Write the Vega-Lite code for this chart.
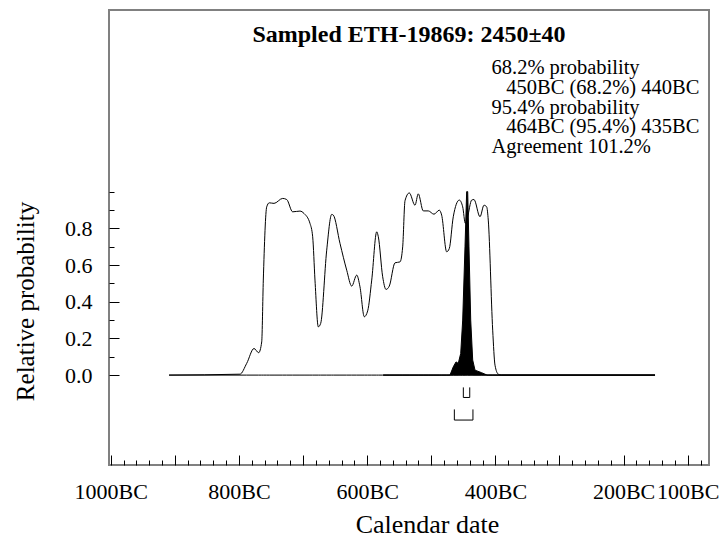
{
  "$schema": "https://vega.github.io/schema/vega-lite/v6.json",
  "width": 600,
  "height": 455,
  "autosize": "none",
  "padding": {"left": 109, "top": 10, "right": 11, "bottom": 72},
  "background": "white",
  "config": {
    "font": "Liberation Serif",
    "view": {"stroke": "#808080", "strokeWidth": 2},
    "axis": {"labelFont": "Liberation Serif", "titleFont": "Liberation Serif", "labelColor": "black", "titleColor": "black", "titleFontWeight": "normal", "domain": false, "grid": false, "tickColor": "black", "tickWidth": 1},
    "text": {"font": "Liberation Serif", "fontSize": 20.5, "color": "black", "align": "left", "baseline": "alphabetic"}
  },
  "title": {
    "text": "Sampled ETH-19869: 2450±40",
    "orient": "top",
    "anchor": "middle",
    "frame": "group",
    "baseline": "alphabetic",
    "offset": -33,
    "dy": 23,
    "font": "Liberation Serif",
    "fontSize": 24,
    "fontWeight": "bold",
    "color": "black"
  },
  "resolve": {"axis": {"x": "independent", "y": "independent"}},
  "datasets": {
    "likelihood": [
      {"yr": -909, "p": 0}, {"yr": -798.4, "p": 0.005}, {"yr": -787.9, "p": 0.064}, {"yr": -776.5, "p": 0.145},
      {"yr": -769.2, "p": 0.122}, {"yr": -764.5, "p": 0.181}, {"yr": -762.0, "p": 0.518}, {"yr": -756.7, "p": 0.917},
      {"yr": -752.7, "p": 0.939}, {"yr": -745.3, "p": 0.936}, {"yr": -731.8, "p": 0.963}, {"yr": -725.5, "p": 0.957},
      {"yr": -716.2, "p": 0.89}, {"yr": -704.8, "p": 0.894}, {"yr": -698.5, "p": 0.881}, {"yr": -689.2, "p": 0.827},
      {"yr": -685, "p": 0.754}, {"yr": -681.4, "p": 0.518}, {"yr": -676.2, "p": 0.263}, {"yr": -672.5, "p": 0.282},
      {"yr": -663.1, "p": 0.681}, {"yr": -655.3, "p": 0.876}, {"yr": -652.8, "p": 0.872}, {"yr": -642.4, "p": 0.718},
      {"yr": -631.9, "p": 0.572}, {"yr": -624.1, "p": 0.485}, {"yr": -616.3, "p": 0.545}, {"yr": -611.2, "p": 0.481},
      {"yr": -604.5, "p": 0.318}, {"yr": -599.2, "p": 0.35}, {"yr": -592.9, "p": 0.518}, {"yr": -585.1, "p": 0.781},
      {"yr": -582.6, "p": 0.754}, {"yr": -575.8, "p": 0.536}, {"yr": -570.6, "p": 0.467}, {"yr": -565.5, "p": 0.485},
      {"yr": -556.6, "p": 0.612}, {"yr": -548.8, "p": 0.617}, {"yr": -544.6, "p": 0.699}, {"yr": -541, "p": 0.95},
      {"yr": -534.3, "p": 0.993}, {"yr": -525.4, "p": 0.926}, {"yr": -520.3, "p": 0.988}, {"yr": -512.5, "p": 0.895},
      {"yr": -504.7, "p": 0.895}, {"yr": -495.8, "p": 0.877}, {"yr": -487.5, "p": 0.899}, {"yr": -483.8, "p": 0.872},
      {"yr": -476, "p": 0.672}, {"yr": -471.9, "p": 0.69}, {"yr": -465.7, "p": 0.863}, {"yr": -456.3, "p": 0.954},
      {"yr": -451, "p": 0.917}, {"yr": -446.9, "p": 0.827}, {"yr": -443.5, "p": 0.86}, {"yr": -437, "p": 0.954},
      {"yr": -433.4, "p": 0.957}, {"yr": -424, "p": 0.863}, {"yr": -417.8, "p": 0.926}, {"yr": -413.6, "p": 0.917},
      {"yr": -411.1, "p": 0.845}, {"yr": -404.2, "p": 0.245}, {"yr": -400.6, "p": 0.054}, {"yr": -395.5, "p": 0.005},
      {"yr": -391, "p": 0}, {"yr": -151, "p": 0}
    ],
    "posterior": [
      {"yr": -575, "p": 0}, {"yr": -470.8, "p": 0}, {"yr": -465.7, "p": 0.045}, {"yr": -461.4, "p": 0.072},
      {"yr": -457.9, "p": 0.064}, {"yr": -454.1, "p": 0.118}, {"yr": -451, "p": 0.3}, {"yr": -447.4, "p": 0.699},
      {"yr": -444.8, "p": 1.0}, {"yr": -443.2, "p": 1.0}, {"yr": -441.2, "p": 0.699}, {"yr": -438.5, "p": 0.3},
      {"yr": -435.4, "p": 0.082}, {"yr": -431.8, "p": 0.027}, {"yr": -421.4, "p": 0.013}, {"yr": -416.2, "p": 0.005},
      {"yr": -413, "p": 0}, {"yr": -151, "p": 0}
    ],
    "ranges": [
      {"range": "68.2%", "yr": -450, "yr2": -440},
      {"range": "95.4%", "yr": -464, "yr2": -435}
    ],
    "summary": [
      {"line": "68.2% probability"},
      {"line": "450BC (68.2%) 440BC"},
      {"line": "95.4% probability"},
      {"line": "464BC (95.4%) 435BC"},
      {"line": "Agreement 101.2%"}
    ]
  },
  "layer": [
    {
      "data": {"name": "likelihood"},
      "mark": {"type": "area", "fillOpacity": 0, "stroke": "black", "strokeWidth": 1, "interpolate": "monotone"},
      "encoding": {
        "x": {
          "field": "yr", "type": "quantitative",
          "scale": {"domain": [-1002.7, -66.8], "nice": false, "zero": false},
          "axis": {
            "orient": "bottom",
            "values": [-1000, -900, -800, -700, -600, -500, -400, -300, -200, -100],
            "tickSize": -10,
            "labelExpr": "indexof([-1000,-800,-600,-400,-200,-100], datum.value) >= 0 ? (-datum.value) + 'BC' : ''",
            "labelPadding": 26,
            "labelFontSize": 22,
            "labelFlush": false,
            "labelOverlap": false,
            "labelBound": false,
            "title": "Calendar date",
            "titleFontSize": 26,
            "titleX": 318,
            "titleY": 67,
            "titleBaseline": "alphabetic",
            "titleAlign": "center"
          }
        },
        "y": {
          "field": "p", "type": "quantitative",
          "scale": {"domain": [-0.49, 1.99], "nice": false, "zero": false},
          "axis": {
            "orient": "left",
            "values": [0, 0.2, 0.4, 0.6, 0.8],
            "tickSize": -10,
            "format": ".1f",
            "labelPadding": 27,
            "labelFontSize": 22,
            "labelFlush": false,
            "labelOverlap": false,
            "labelBound": false,
            "title": "Relative probability",
            "titleFontSize": 25,
            "titleX": -76,
            "titleY": 291,
            "titleAngle": -90,
            "titleBaseline": "alphabetic",
            "titleAlign": "center"
          }
        }
      }
    },
    {
      "data": {"name": "posterior"},
      "mark": {"type": "area", "fill": "black", "stroke": "black", "strokeWidth": 1},
      "encoding": {
        "x": {
          "field": "yr", "type": "quantitative",
          "axis": {
            "orient": "bottom",
            "values": [-980,-960,-940,-920,-880,-860,-840,-820,-780,-760,-740,-720,-680,-660,-640,-620,-580,-560,-540,-520,-480,-460,-440,-420,-380,-360,-340,-320,-280,-260,-240,-220,-180,-160,-140,-120,-80],
            "tickSize": -5,
            "labels": false,
            "title": null
          }
        },
        "y": {
          "field": "p", "type": "quantitative",
          "axis": {
            "orient": "left",
            "values": [0.1, 0.3, 0.5, 0.7, 0.9, 1.0],
            "tickSize": -5,
            "labels": false,
            "title": null
          }
        }
      }
    },
    {
      "data": {"name": "ranges"},
      "transform": [{"filter": "datum.range === '68.2%'"}],
      "mark": {"type": "rule", "color": "black", "strokeWidth": 1},
      "encoding": {
        "x": {"field": "yr", "type": "quantitative", "axis": null},
        "x2": {"field": "yr2"},
        "y": {"datum": -0.122, "type": "quantitative", "axis": null}
      }
    },
    {
      "data": {"name": "ranges"},
      "transform": [{"filter": "datum.range === '68.2%'"}, {"fold": ["yr", "yr2"], "as": ["end", "year"]}],
      "mark": {"type": "rule", "color": "black", "strokeWidth": 1},
      "encoding": {
        "x": {"field": "year", "type": "quantitative", "axis": null},
        "y": {"datum": -0.067, "type": "quantitative", "axis": null},
        "y2": {"datum": -0.122}
      }
    },
    {
      "data": {"name": "ranges"},
      "transform": [{"filter": "datum.range === '95.4%'"}],
      "mark": {"type": "rule", "color": "black", "strokeWidth": 1},
      "encoding": {
        "x": {"field": "yr", "type": "quantitative", "axis": null},
        "x2": {"field": "yr2"},
        "y": {"datum": -0.245, "type": "quantitative", "axis": null}
      }
    },
    {
      "data": {"name": "ranges"},
      "transform": [{"filter": "datum.range === '95.4%'"}, {"fold": ["yr", "yr2"], "as": ["end", "year"]}],
      "mark": {"type": "rule", "color": "black", "strokeWidth": 1},
      "encoding": {
        "x": {"field": "year", "type": "quantitative", "axis": null},
        "y": {"datum": -0.187, "type": "quantitative", "axis": null},
        "y2": {"datum": -0.245}
      }
    },
    {
      "data": {"name": "summary"},
      "transform": [{"filter": "datum.line === '68.2% probability'"}],
      "mark": {"type": "text"},
      "encoding": {
        "text": {"field": "line"},
        "x": {"datum": -406, "type": "quantitative", "axis": null},
        "y": {"datum": 1.639, "type": "quantitative", "axis": null}
      }
    },
    {
      "data": {"name": "summary"},
      "transform": [{"filter": "datum.line === '450BC (68.2%) 440BC'"}],
      "mark": {"type": "text"},
      "encoding": {
        "text": {"field": "line"},
        "x": {"datum": -383, "type": "quantitative", "axis": null},
        "y": {"datum": 1.532, "type": "quantitative", "axis": null}
      }
    },
    {
      "data": {"name": "summary"},
      "transform": [{"filter": "datum.line === '95.4% probability'"}],
      "mark": {"type": "text"},
      "encoding": {
        "text": {"field": "line"},
        "x": {"datum": -406, "type": "quantitative", "axis": null},
        "y": {"datum": 1.425, "type": "quantitative", "axis": null}
      }
    },
    {
      "data": {"name": "summary"},
      "transform": [{"filter": "datum.line === '464BC (95.4%) 435BC'"}],
      "mark": {"type": "text"},
      "encoding": {
        "text": {"field": "line"},
        "x": {"datum": -383, "type": "quantitative", "axis": null},
        "y": {"datum": 1.319, "type": "quantitative", "axis": null}
      }
    },
    {
      "data": {"name": "summary"},
      "transform": [{"filter": "datum.line === 'Agreement 101.2%'"}],
      "mark": {"type": "text"},
      "encoding": {
        "text": {"field": "line"},
        "x": {"datum": -406, "type": "quantitative", "axis": null},
        "y": {"datum": 1.212, "type": "quantitative", "axis": null}
      }
    }
  ]
}
